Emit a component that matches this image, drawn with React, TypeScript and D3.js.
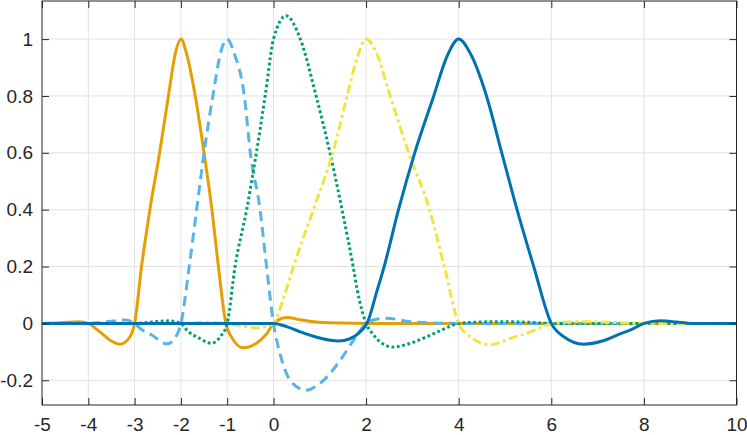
import React, { useEffect, useRef } from 'react';
import * as d3 from 'd3';

// tick values
const xTicks = [-5, -4, -3, -2, -1, 0, 2, 4, 6, 8, 10];
const yTicks = [-0.2, 0, 0.2, 0.4, 0.6, 0.8, 1];

// basis function peaking at -2 (orange, solid)
const orangeX = [-5, -4.6, -4.2, -4, -3.75, -3.53, -3.31, -3.1, -3, -2.85, -2.67, -2.46, -2.27, -2.12, -2, -1.88, -1.69, -1.5, -1.33, -1.19, -1.03, -0.9, -0.65, -0.37, -0.14, 0, 0.29, 0.6, 1, 1.5, 2, 4, 6, 8, 10];
const orangeY = [0, 0.002, 0.006, 0, -0.03, -0.059, -0.073, -0.047, 0, 0.2, 0.4, 0.6, 0.8, 0.95, 1, 0.95, 0.8, 0.6, 0.4, 0.2, 0, -0.05, -0.086, -0.07, -0.035, 0, 0.021, 0.012, 0.004, 0.001, 0, 0, 0, 0, 0];

// basis function peaking at -1 (sky blue, dashed)
const skyX = [-5, -4, -3.6, -3.2, -3, -2.88, -2.63, -2.3, -2.12, -2, -1.82, -1.66, -1.5, -1.31, -1.13, -1, -0.85, -0.63, -0.5, -0.29, -0.15, 0, 0.14, 0.36, 0.7, 1.08, 1.44, 1.73, 2, 2.2, 2.45, 2.95, 3.4, 4, 6, 8, 10];
const skyY = [0, 0, 0.006, 0.012, 0, -0.018, -0.041, -0.072, -0.05, 0, 0.2, 0.4, 0.6, 0.8, 0.96, 1, 0.95, 0.8, 0.6, 0.4, 0.2, 0, -0.106, -0.2, -0.235, -0.2, -0.13, -0.059, 0, 0.014, 0.018, 0.006, 0.002, 0, 0, 0, 0];

// basis function peaking near 0 (green, dotted)
const greenX = [-5, -3, -2.6, -2.27, -2, -1.87, -1.59, -1.35, -1.15, -1, -0.83, -0.58, -0.37, -0.18, 0, 0.27, 0.58, 0.92, 1.22, 1.48, 1.72, 1.81, 2, 2.16, 2.3, 2.59, 2.95, 3.31, 3.65, 4, 4.5, 5, 5.5, 6, 8, 10];
const greenY = [0, 0, 0.005, 0.009, 0, -0.024, -0.053, -0.07, -0.047, 0, 0.2, 0.4, 0.6, 0.8, 1, 1.082, 1, 0.8, 0.6, 0.4, 0.2, 0.117, 0, -0.04, -0.065, -0.083, -0.07, -0.047, -0.022, 0, 0.005, 0.006, 0.004, 0, 0, 0];

// basis function peaking at 2 (yellow, dash-dot)
const yellowX = [-5, -2, -1.5, -1, -0.79, -0.55, -0.36, -0.15, 0, 0.2, 0.43, 0.86, 1.28, 1.59, 1.8, 2, 2.2, 2.52, 2.92, 3.37, 3.69, 4, 4.25, 4.68, 5.11, 5.55, 5.9, 6, 6.27, 6.8, 7.4, 8, 10];
const yellowY = [0, 0, 0.004, 0, -0.006, -0.012, -0.016, -0.01, 0, 0.08, 0.2, 0.4, 0.6, 0.8, 0.93, 1, 0.96, 0.8, 0.6, 0.4, 0.2, 0, -0.047, -0.075, -0.053, -0.03, -0.006, 0, 0.004, 0.006, 0.003, 0, 0];

// basis function peaking at 4 (blue, solid)
const blueX = [-5, -1, 0, 0.3, 0.58, 0.9, 1.22, 1.4, 1.65, 1.87, 2.02, 2.24, 2.39, 2.7, 3.05, 3.46, 3.75, 4, 4.25, 4.6, 4.93, 5.26, 5.62, 6, 6.27, 6.7, 7.1, 7.42, 7.75, 8, 8.36, 8.7, 9, 10];
const blueY = [0, 0, 0, -0.012, -0.03, -0.047, -0.059, -0.062, -0.054, -0.03, 0, 0.117, 0.2, 0.4, 0.6, 0.8, 0.94, 1, 0.95, 0.8, 0.6, 0.4, 0.2, 0, -0.047, -0.073, -0.062, -0.041, -0.02, 0, 0.009, 0.005, 0, 0];

const series = [
  { xs: orangeX, ys: orangeY, color: '#E69F00', dash: null },
  { xs: skyX, ys: skyY, color: '#56B4E9', dash: '10,6' },
  { xs: greenX, ys: greenY, color: '#009E73', dash: '2.8,2.6' },
  { xs: yellowX, ys: yellowY, color: '#F0E442', dash: '9,3.5,3,3.5' },
  { xs: blueX, ys: blueY, color: '#0072B2', dash: null },
];

export default function App() {
  const ref = useRef<SVGSVGElement | null>(null);

  useEffect(() => {
    const W = 747;
    const H = 435;
    const left = 42, right = 736.5, top = 1, bottom = 405;
    const font = '"Liberation Sans", Arial, Helvetica, sans-serif';
    const axisColor = '#262626';

    const svg = d3.select(ref.current);
    svg.selectAll('*').remove();
    svg.attr('width', W).attr('height', H);

    const x = d3.scaleLinear().domain([-5, 10]).range([left, right]);
    const y = d3.scaleLinear().domain([-0.287, 1.134]).range([bottom, top]);

    svg.append('rect').attr('width', W).attr('height', H).attr('fill', '#fff');

    // grid
    const grid = svg.append('g').attr('stroke', '#e2e2e2').attr('stroke-width', 1);
    grid.selectAll('line.gx')
      .data(xTicks.slice(1, -1))
      .join('line')
      .attr('x1', d => x(d)).attr('x2', d => x(d))
      .attr('y1', top).attr('y2', bottom);
    grid.selectAll('line.gy')
      .data(yTicks)
      .join('line')
      .attr('class', 'gy')
      .attr('x1', left).attr('x2', right)
      .attr('y1', d => y(d)).attr('y2', d => y(d));

    // curves
    svg.append('defs').append('clipPath').attr('id', 'plotclip')
      .append('rect')
      .attr('x', left).attr('y', top)
      .attr('width', right - left).attr('height', bottom - top);

    const line = d3.line<[number, number]>()
      .x(d => x(d[0]))
      .y(d => y(d[1]))
      .curve(d3.curveMonotoneX);

    const plot = svg.append('g').attr('clip-path', 'url(#plotclip)');
    series.forEach(s => {
      const pts = s.xs.map((v, i) => [v, s.ys[i]] as [number, number]);
      plot.append('path')
        .attr('d', line(pts))
        .attr('fill', 'none')
        .attr('stroke', s.color)
        .attr('stroke-width', 3)
        .attr('stroke-linejoin', 'round')
        .attr('stroke-dasharray', s.dash);
    });

    // axes
    const styleAxis = (g: any) => {
      g.select('.domain').remove();
      g.selectAll('.tick line').attr('stroke', axisColor).attr('stroke-width', 1);
      g.selectAll('.tick text')
        .attr('fill', axisColor)
        .style('font-family', font)
        .style('font-size', '19px');
    };

    svg.append('g')
      .attr('transform', `translate(0,${bottom})`)
      .call(d3.axisBottom(x).tickValues(xTicks).tickSizeInner(-7).tickSizeOuter(0).tickPadding(12.5).tickFormat(d => String(d)))
      .call(styleAxis);
    svg.append('g')
      .attr('transform', `translate(0,${top})`)
      .call(d3.axisTop(x).tickValues(xTicks).tickSizeInner(-7).tickSizeOuter(0).tickFormat(() => ''))
      .call(styleAxis);
    svg.append('g')
      .attr('transform', `translate(${left},0)`)
      .call(d3.axisLeft(y).tickValues(yTicks).tickSizeInner(-7).tickSizeOuter(0).tickPadding(9).tickFormat(d => String(d)))
      .call(styleAxis);
    svg.append('g')
      .attr('transform', `translate(${right},0)`)
      .call(d3.axisRight(y).tickValues(yTicks).tickSizeInner(-7).tickSizeOuter(0).tickFormat(() => ''))
      .call(styleAxis);

    // box
    svg.append('rect')
      .attr('x', left).attr('y', top)
      .attr('width', right - left).attr('height', bottom - top)
      .attr('fill', 'none')
      .attr('stroke', axisColor)
      .attr('stroke-width', 1);
  }, []);

  return (
    <svg ref={ref} style={{ position: 'absolute', left: 0, top: 0, display: 'block' }} />
  );
}
